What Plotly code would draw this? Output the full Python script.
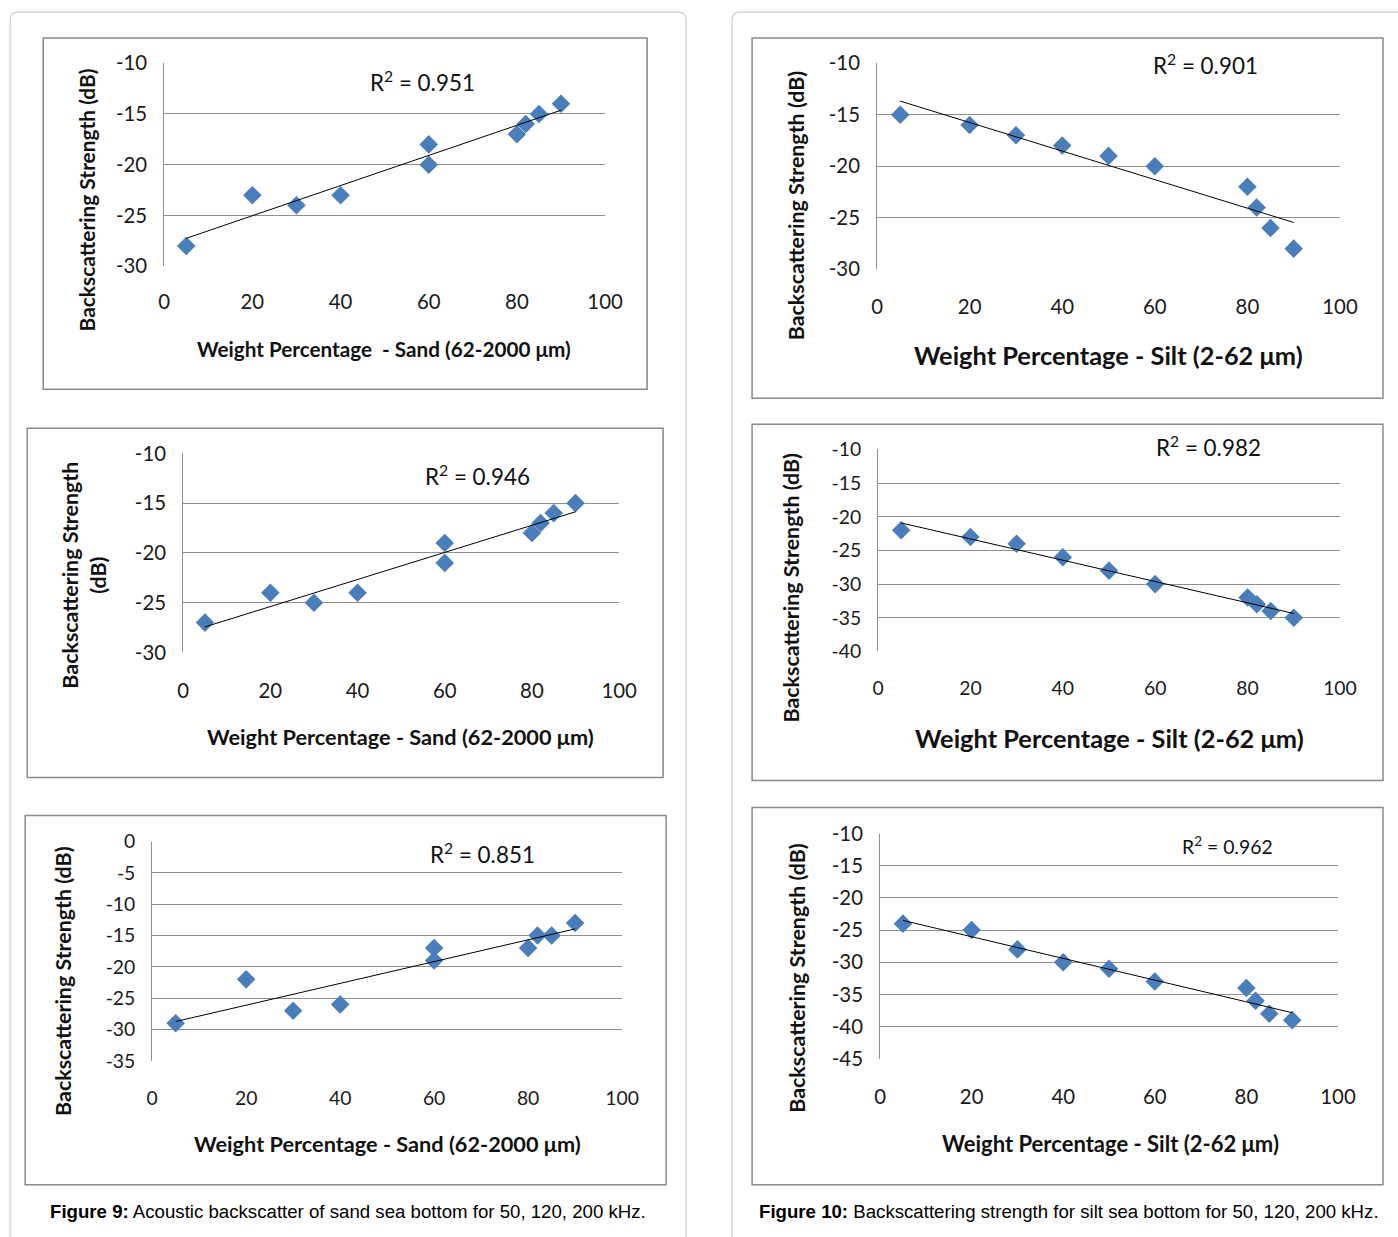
import numpy as np
import plotly.graph_objects as go

W, H = 1398, 1237

# ---------------- data ----------------
sand_x = [5, 20, 30, 40, 60, 60, 80, 82, 85, 90]
sand_50 = [-28, -23, -24, -23, -18, -20, -17, -16, -15, -14]
sand_120 = [-27, -24, -25, -24, -19, -21, -18, -17, -16, -15]
sand_200 = [-29, -22, -27, -26, -17, -19, -17, -15, -15, -13]

silt_x = [5, 20, 30, 40, 50, 60, 80, 82, 85, 90]
silt_50 = [-15, -16, -17, -18, -19, -20, -22, -24, -26, -28]
silt_120 = [-22, -23, -24, -26, -28, -30, -32, -33, -34, -35]
silt_200 = [-24, -25, -28, -30, -31, -33, -34, -36, -38, -39]

r2_labels = ["R<sup>2</sup> = 0.951", "R<sup>2</sup> = 0.946", "R<sup>2</sup> = 0.851",
             "R<sup>2</sup> = 0.901", "R<sup>2</sup> = 0.982", "R<sup>2</sup> = 0.962"]
x_ticks = [0, 20, 40, 60, 80, 100]
y_ranges = [(-30, -10), (-30, -10), (-35, 0), (-30, -10), (-40, -10), (-45, -10)]

sand_title_1 = "Weight Percentage  - Sand (62-2000 μm)"
sand_title = "Weight Percentage - Sand (62-2000 μm)"
silt_title = "Weight Percentage - Silt (2-62 μm)"
y_title = "Backscattering Strength (dB)"
y_title_2 = "Backscattering Strength<br>(dB)"
caption_9 = "<b>Figure 9:</b> Acoustic backscatter of sand sea bottom for 50, 120, 200 kHz."
caption_10 = "<b>Figure 10:</b> Backscattering strength for silt sea bottom for 50, 120, 200 kHz."

series = [(sand_x, sand_50), (sand_x, sand_120), (sand_x, sand_200),
          (silt_x, silt_50), (silt_x, silt_120), (silt_x, silt_200)]

# ---------------- layout specs (target pixels) ----------------
panels = [
    dict(plot=(164, 63, 605, 266), box=(43, 38, 647, 389), so=21,
         xt=(384, 349, 20.3, sand_title_1), yt=(86, 200, y_title, 20.5), r2=(422, 81, 22), tf=20),
    dict(plot=(183, 453, 619, 652), box=(27, 428, 663, 777), so=24,
         xt=(400, 736, 21.3, sand_title), yt=(84, 575, y_title_2, 21), r2=(477, 475, 22), tf=20),
    dict(plot=(152, 841, 622, 1060), box=(25, 815, 666, 1184), so=24,
         xt=(387, 1143, 21.3, sand_title), yt=(63, 980, y_title, 21), r2=(482, 853, 22), tf=19),
    dict(plot=(877, 63, 1340, 269), box=(752, 38, 1383, 398), so=23,
         xt=(1108, 355, 24.9, silt_title), yt=(796, 205, y_title, 21), r2=(1206, 64, 22), tf=20),
    dict(plot=(878, 449, 1340, 651), box=(752, 424, 1383, 780), so=23,
         xt=(1109, 737, 24.9, silt_title), yt=(791, 587, y_title, 21), r2=(1209, 446, 22), tf=19),
    dict(plot=(880, 833, 1338, 1058), box=(752, 807, 1383, 1184), so=24,
         xt=(1110, 1143, 21.6, silt_title), yt=(797, 977, y_title, 21), r2=(1228, 845, 19), tf=20),
]

FONT = "Lato"
MARK = "#4a7ebb"

# compensation for the observed rendering transform (x' = 0.983x + 5.8, y' = 0.98y + 12.9)
SX, OX, SY, OY = 0.983, 5.8, 0.980, 12.9
FS = 1 / 0.981


def px(x):
    return ((x - OX) / SX) / W


def py(y):
    return 1 - ((y - OY) / SY) / H


def f(s):
    return s * FS


fig = go.Figure()
shapes = []
annotations = []

for (x0, x1) in [(10, 686), (732, 1420)]:
    y0, y1, r = 12, 1260, 8
    path = (f"M {px(x0)},{py(y1)} L {px(x0)},{py(y0 + r)} Q {px(x0)},{py(y0)} {px(x0 + r)},{py(y0)} "
            f"L {px(x1 - r)},{py(y0)} Q {px(x1)},{py(y0)} {px(x1)},{py(y0 + r)} L {px(x1)},{py(y1)}")
    shapes.append(dict(type="path", xref="paper", yref="paper", path=path,
                       line=dict(color="#cfcfcf", width=1.2)))

layout_axes = {}
for i, (p, (xs, ys), (ylo, yhi), r2) in enumerate(zip(panels, series, y_ranges, r2_labels)):
    n = i + 1
    xa = "x" if n == 1 else f"x{n}"
    ya = "y" if n == 1 else f"y{n}"
    x0, y0, x1, y1 = p["plot"]
    bx0, by0, bx1, by1 = p["box"]
    shapes.append(dict(type="rect", xref="paper", yref="paper",
                       x0=px(bx0), x1=px(bx1), y0=py(by1), y1=py(by0),
                       line=dict(color="#8a8a8a", width=1.5), layer="below"))
    fig.add_trace(go.Scatter(x=xs, y=ys, mode="markers", xaxis=xa, yaxis=ya,
                             marker=dict(symbol="diamond", size=f(14), color=MARK,
                                         line=dict(width=0)),
                             showlegend=False, cliponaxis=False))
    # linear trendline computed from the data
    k, b = np.polyfit(xs, ys, 1)
    lx = np.array([min(xs), max(xs)])
    fig.add_trace(go.Scatter(x=lx, y=k * lx + b, mode="lines", xaxis=xa, yaxis=ya,
                             line=dict(color="#000000", width=1),
                             showlegend=False, hoverinfo="skip"))
    layout_axes["xaxis" if n == 1 else f"xaxis{n}"] = dict(
        domain=[px(x0), px(x1)], anchor=ya, range=[0, 100],
        tickvals=x_ticks, ticktext=[str(v) for v in x_ticks],
        showgrid=False, zeroline=False, showline=False,
        ticks="", ticklabelstandoff=p["so"],
        tickfont=dict(family=FONT, size=f(p["tf"]), color="#1a1a1a"))
    yv = list(range(ylo, yhi + 1, 5))
    layout_axes["yaxis" if n == 1 else f"yaxis{n}"] = dict(
        domain=[py(y1), py(y0)], anchor=xa, range=[ylo, yhi],
        tickvals=yv, ticktext=[str(v) for v in yv],
        showgrid=True, gridcolor="#8f8f8f", gridwidth=1,
        zeroline=False, showline=True, linecolor="#8f8f8f", linewidth=1,
        ticks="", ticklabelstandoff=12,
        tickfont=dict(family=FONT, size=f(p["tf"]), color="#1a1a1a"))
    cx, cy, fs, t = p["xt"]
    annotations.append(dict(x=px(cx), y=py(cy), xref="paper", yref="paper", text=f"<b>{t}</b>",
                            showarrow=False, xanchor="center", yanchor="middle",
                            font=dict(family=FONT, size=f(fs), color="#111111")))
    cx, cy, t, fs = p["yt"]
    annotations.append(dict(x=px(cx), y=py(cy), xref="paper", yref="paper", text=f"<b>{t}</b>",
                            showarrow=False, xanchor="center", yanchor="middle", textangle=-90,
                            font=dict(family=FONT, size=f(fs), color="#111111")))
    cx, cy, fs = p["r2"]
    annotations.append(dict(x=px(cx), y=py(cy), xref="paper", yref="paper", text=r2,
                            showarrow=False, xanchor="center", yanchor="middle",
                            font=dict(family=FONT, size=f(fs), color="#111111")))

annotations.append(dict(x=px(348), y=py(1211), xref="paper", yref="paper", text=caption_9,
                        showarrow=False, xanchor="center", yanchor="middle",
                        font=dict(family="Liberation Sans", size=f(18.3), color="#000000")))
annotations.append(dict(x=px(1069), y=py(1211), xref="paper", yref="paper", text=caption_10,
                        showarrow=False, xanchor="center", yanchor="middle",
                        font=dict(family="Liberation Sans", size=f(18.3), color="#000000")))

fig.update_layout(width=W, height=H, margin=dict(l=0, r=0, t=0, b=0),
                  paper_bgcolor="white", plot_bgcolor="white",
                  shapes=shapes, annotations=annotations, **layout_axes)

fig.write_html(
    "out.html",
    config={"displayModeBar": False},
    post_script=("document.body.style.margin='0';document.body.style.overflow='hidden';"
                 "document.documentElement.style.overflow='hidden';"),
)
